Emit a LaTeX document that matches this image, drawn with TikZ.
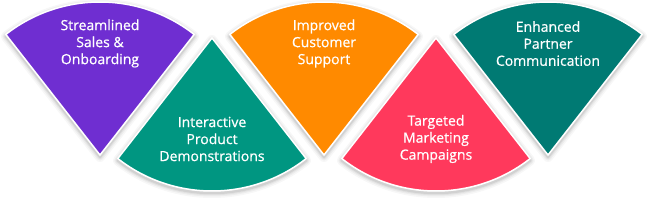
\documentclass[tikz,border=0pt]{standalone}
\usepackage{fontspec}
\setmainfont[FakeBold=0.7]{Open Sans}
\definecolor{cpurple}{RGB}{111,46,209}
\definecolor{cgreen}{RGB}{0,150,129}
\definecolor{corange}{RGB}{255,138,0}
\definecolor{cred}{RGB}{255,57,92}
\definecolor{cteal}{RGB}{0,122,115}
\tikzset{
  lbl/.style={text=white, align=center, font=\fontsize{14}{17}\selectfont, inner sep=0pt},
  secfill/.style={draw=white, line width=1.5pt, line join=round},
  shadowline/.style={draw=black, line join=round}
}
\begin{document}
\begin{tikzpicture}[x=1pt,y=1pt]
\useasboundingbox (0,0) rectangle (649,204);
% shadows
\foreach \ax/\ay/\dir in {100/49/90, 212/166/-90, 324/49/90, 436/166/-90, 548/49/90}{
  \foreach \w/\o in {10/0.03, 7/0.04, 4.5/0.05, 2.5/0.07}{
    \draw[shadowline, line width=\w pt, draw opacity=\o] ([yshift=-2pt]\ax,\ay) -- ++(\dir-38:153) arc[start angle=\dir-38, end angle=\dir+38, radius=153] -- cycle;
  }
}
% sectors
\path[secfill, fill=cpurple] (100,49) -- ++(52:153) arc[start angle=52, end angle=128, radius=153] -- cycle;
\path[secfill, fill=cgreen] (212,166) -- ++(-52:153) arc[start angle=-52, end angle=-128, radius=153] -- cycle;
\path[secfill, fill=corange] (324,49) -- ++(52:153) arc[start angle=52, end angle=128, radius=153] -- cycle;
\path[secfill, fill=cred] (436,166) -- ++(-52:153) arc[start angle=-52, end angle=-128, radius=153] -- cycle;
\path[secfill, fill=cteal] (548,49) -- ++(52:153) arc[start angle=52, end angle=128, radius=153] -- cycle;
% labels
\node[lbl] (t1) at (100,160.5) {Streamlined\\Sales \&\\Onboarding};
\node[lbl] (t2) at (212,65) {Interactive\\Product\\Demonstrations};
\node[lbl] (t3) at (324,160.5) {Improved\\Customer\\Support};
\node[lbl] (t4) at (436,65) {Targeted\\Marketing\\Campaigns};
\node[lbl] (t5) at (548,160.5) {Enhanced\\Partner\\Communication};
\end{tikzpicture}
\end{document}
